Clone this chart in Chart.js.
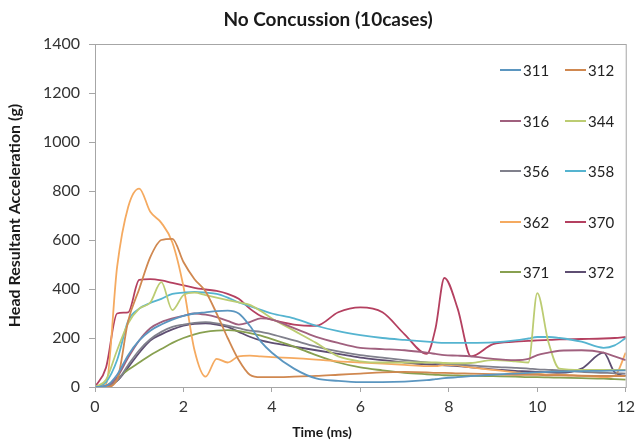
<!DOCTYPE html>
<html><head><meta charset="utf-8">
<script src="https://cdn.jsdelivr.net/npm/chart.js@4/dist/chart.umd.min.js"></script>
<style>
html,body{margin:0;padding:0;background:#fff;}
#wrap{position:relative;width:640px;height:447px;font-family:Lato,"Open Sans",sans-serif;color:#1a1a1a;}
#title{position:absolute;left:0;top:7px;width:656px;text-align:center;font-weight:bold;font-size:19px;}
#xtitle{position:absolute;left:0;top:423px;width:644px;text-align:center;font-weight:bold;font-size:14px;}
.lg{position:absolute;display:flex;align-items:center;font-size:15px;color:#222;}
.lg span.ln{display:inline-block;width:21px;height:2px;margin-right:2px;}
canvas{position:absolute;left:0;top:0;}
</style></head>
<body><div id="wrap"><canvas id="c" width="640" height="447"></canvas>
<div id="title">No Concussion (10cases)</div>
<div id="xtitle">Time (ms)</div>
</div>
<script>
const times = [0,0.25,0.5,0.75,1,1.25,1.5,1.75,2,2.25,2.5,2.75,3,3.25,3.5,3.75,4,4.5,5,5.5,6,6.5,7,7.5,7.7,7.9,8.2,8.5,9,9.5,9.8,10,10.25,10.5,11,11.5,11.75,12];
const labels = ["311","312","316","344","356","358","362","370","371","372"];
const s311 = [0,5,50,130,190,230,255,275,290,300,305,310,312,300,250,185,140,75,35,25,20,20,22,28,32,36,40,44,50,55,58,60,62,63,65,66,67,68];
const s312 = [0,0,30,270,400,530,600,605,510,440,390,300,200,110,50,40,40,42,45,50,55,60,62,60,58,58,56,55,52,50,50,50,48,48,46,45,45,45];
const s316 = [0,5,40,120,190,240,265,280,290,300,295,285,270,255,265,280,275,240,205,180,160,155,150,140,135,130,128,125,115,110,115,130,140,148,150,140,125,110];
const s344 = [0,30,150,260,320,345,428,314,375,385,375,365,355,345,335,310,280,230,180,125,105,100,100,100,100,98,97,98,110,105,100,383,185,75,70,70,70,70];
const s356 = [0,3,25,90,150,195,225,245,255,262,265,260,250,240,230,225,215,190,165,145,130,120,110,100,98,95,92,88,82,78,75,72,70,68,62,58,56,55];
const s358 = [0,20,110,270,320,343,360,380,385,388,385,380,365,345,330,315,300,280,250,228,212,200,192,185,182,180,180,180,182,190,198,204,204,200,185,160,170,200];
const s362 = [0,10,490,735,810,715,670,590,410,150,42,115,100,125,128,125,122,118,112,105,100,95,90,85,85,90,88,80,70,60,55,55,50,50,45,40,45,140];
const s370 = [0,80,300,305,437,440,435,425,415,405,398,392,380,360,320,290,275,255,250,305,325,305,215,135,240,445,320,125,175,185,188,190,192,194,196,198,200,204];
const s371 = [0,5,35,70,100,130,155,180,200,215,225,230,232,228,220,210,195,165,130,100,80,68,58,52,50,48,47,46,44,42,40,40,39,38,36,34,32,30];
const s372 = [0,3,25,80,140,190,215,235,250,258,260,255,245,225,205,190,180,165,150,135,120,110,100,92,90,88,85,80,72,66,64,62,60,58,75,140,60,45];
const yTicks = [0,200,400,600,800,1000,1200,1400];
const xTicks = [0,2,4,6,8,10,12];

const series = [s311,s312,s316,s344,s356,s358,s362,s370,s371,s372];
const colors = ["#5b96c0","#d08850","#a0607e","#bccc72","#80808c","#55b4d0","#f5aa60","#b44060","#88a050","#5e4e72"];

const datasets = series.map((s,i)=>({
  label: labels[i],
  data: s.map((v,j)=>({x:times[j],y:v})),
  borderColor: colors[i],
  backgroundColor: colors[i],
  borderWidth: 1.8,
  pointRadius: 0,
  cubicInterpolationMode: 'monotone',
  fill:false
}));

const wrap = document.getElementById('wrap');
labels.forEach((l,i)=>{
  const d = document.createElement('div');
  d.className='lg';
  d.style.left = (500 + (i%2)*65) + 'px';
  d.style.top = (61 + Math.floor(i/2)*50.5) + 'px';
  d.innerHTML = '<span class="ln" style="background:'+colors[i]+'"></span>'+l;
  wrap.appendChild(d);
});

const boxPlugin = {
  id:'box',
  afterDraw(chart){
    const a = chart.chartArea, ctx = chart.ctx;
    ctx.save();
    ctx.strokeStyle = '#a6a6a6';
    ctx.lineWidth = 1;
    ctx.strokeRect(a.left+0.5, a.top+0.5, a.right-a.left, a.bottom-a.top);
    ctx.restore();
  }
};

new Chart(document.getElementById('c'), {
  type:'line',
  data:{datasets},
  options:{
    responsive:false,
    animation:false,
    layout:{padding:{top:44,right:12,left:0,bottom:0}},
    plugins:{legend:{display:false},title:{display:false},tooltip:{enabled:false}},
    scales:{
      x:{
        type:'linear', min:0, max:12,
        afterBuildTicks(s){ s.ticks = xTicks.map(v=>({value:v})); },
        afterFit(s){ s.height = 60; },
        grid:{drawOnChartArea:false, drawTicks:true, tickLength:5, color:'#a6a6a6'},
        border:{display:true,color:'#a6a6a6'},
        ticks:{padding:5, color:'#333', font:{family:'Lato', size:16}, maxRotation:0, callback:v=>String(v)}
      },
      y:{
        min:0, max:1400,
        afterBuildTicks(s){ s.ticks = yTicks.map(v=>({value:v})); },
        afterFit(s){ s.width = 95; },
        grid:{drawOnChartArea:false, drawTicks:true, tickLength:6, color:'#a6a6a6'},
        border:{display:true,color:'#a6a6a6'},
        ticks:{padding:9, color:'#333', font:{family:'Lato', size:16}, callback:v=>String(v)},
        title:{display:true, text:'Head Resultant Acceleration (g)', color:'#1a1a1a', font:{family:'Lato', size:16, weight:'bold'}, padding:{top:5,bottom:0}}
      }
    }
  },
  plugins:[boxPlugin]
});
</script>
</body></html>
